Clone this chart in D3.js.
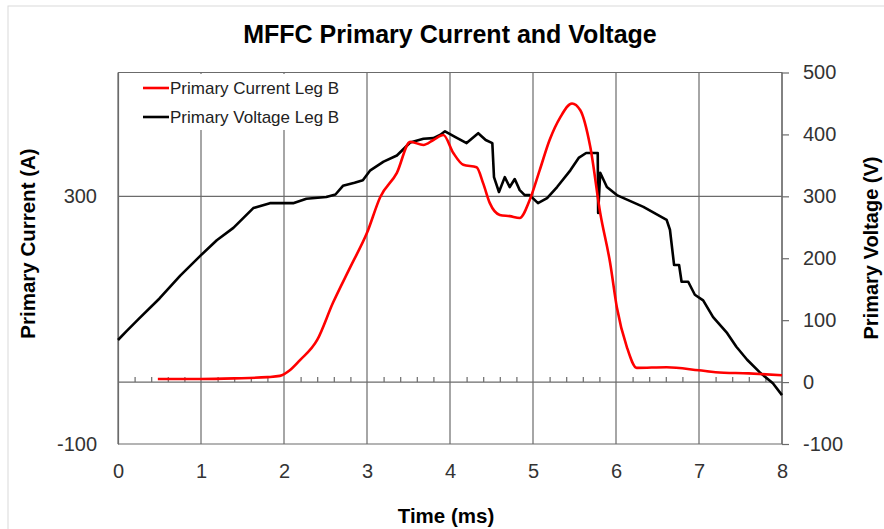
<!DOCTYPE html>
<html><head><meta charset="utf-8">
<script src="https://cdn.jsdelivr.net/npm/d3@7"></script>
<style>body{margin:0;background:#fff}svg{display:block}</style>
</head><body><svg id="c" width="884" height="529"></svg>
<script>
const xTicks = [0,1,2,3,4,5,6,7,8];
const leftTicks = [-100,300];
const rightTicks = [-100,0,100,200,300,400,500];

const currentTime = [0.48,1.0,1.4,1.8,1.95,2.07,2.19,2.4,2.59,2.8,3.0,3.16,3.36,3.52,3.68,3.8,3.92,4.04,4.16,4.32,4.4,4.48,4.6,4.72,4.84,4.96,5.08,5.2,5.33,5.47,5.57,5.69,5.81,5.93,6.01,6.13,6.25,6.61,7.0,7.2,7.6,8.0];
const currentA = [5,5,6,8,10,19,35,68,128,186,241,299,338,388,383,391,399,370,351,347,321,289,270,268,265,294,342,391,428,450,439,380,273,192,121,57,23,24,19,16,14,11];

const voltageTime = [0,0.1,0.25,0.5,0.75,1.0,1.19,1.39,1.63,1.83,2.11,2.27,2.51,2.62,2.71,2.85,2.95,3.04,3.2,3.36,3.52,3.68,3.8,3.88,3.94,4.06,4.2,4.34,4.43,4.51,4.53,4.59,4.66,4.72,4.78,4.84,4.9,4.96,5.06,5.17,5.29,5.45,5.55,5.64,5.78,5.785,5.81,5.89,6.01,6.33,6.61,6.65,6.70,6.76,6.79,6.87,6.95,7.05,7.17,7.34,7.45,7.58,7.73,7.89,8.0];
const voltageV = [68,82,102,135,172,205,229,249,281,289,289,296,299,303,317,322,326,342,356,366,387,393,394,399,405,396,386,402,391,386,331,307,331,315,328,310,302,302,289,297,315,342,362,370,370,273,338,315,302,283,262,246,189,189,162,162,141,132,105,79,57,36,16,-2,-21];

const svg = d3.select("#c");
const L = 118, R = 782, T = 72.5, B = 444;
const x = d3.scaleLinear().domain([0,8]).range([L,R]);
const yL = d3.scaleLinear().domain([-100,500]).range([B,T]);
const yR = d3.scaleLinear().domain([-100,500]).range([B,T]);
const grid = "#6b6b6b";
const tickFont = "'Liberation Sans', Arial, sans-serif";
const fmt = d => String(d);

svg.append("rect").attr("x",8).attr("y",6).attr("width",900).attr("height",600)
  .attr("fill","#fff").attr("stroke","#d9d9d9");

// title
svg.append("text").attr("x",450).attr("y",43).attr("text-anchor","middle")
  .attr("font-family","'Liberation Sans Narrow','Arial Narrow',sans-serif").attr("font-weight","bold")
  .attr("font-size",25).attr("fill","#000").text("MFFC Primary Current and Voltage");

const g = svg.append("g");
g.selectAll("line.vg").data(xTicks).join("line").attr("class","vg")
  .attr("x1",d=>x(d)).attr("x2",d=>x(d)).attr("y1",T).attr("y2",B)
  .attr("stroke",grid).attr("stroke-width",1.2);
g.selectAll("line.hg").data(leftTicks).join("line").attr("class","hg")
  .attr("x1",L).attr("x2",R).attr("y1",d=>yL(d)).attr("y2",d=>yL(d))
  .attr("stroke",grid).attr("stroke-width",1.2);
g.append("line").attr("x1",L).attr("x2",R).attr("y1",T).attr("y2",T).attr("stroke",grid).attr("stroke-width",1.2);

// x axis at zero with minor ticks
const xAxis = d3.axisTop(x).tickValues(d3.range(0,8.01,0.2).filter(v=>Math.abs(v-Math.round(v))>0.01))
  .tickSize(5).tickFormat("");
const xa = svg.append("g").attr("transform",`translate(0,${yL(0)})`).call(xAxis);
xa.select(".domain").remove();
xa.selectAll("line").attr("stroke",grid).attr("stroke-width",1.2);
svg.append("line").attr("x1",L).attr("x2",R).attr("y1",yL(0)).attr("y2",yL(0)).attr("stroke",grid).attr("stroke-width",1.4);

// x tick labels
const xb = svg.append("g").attr("transform",`translate(0,${B})`)
  .call(d3.axisBottom(x).tickValues(xTicks).tickSize(0).tickPadding(20).tickFormat(fmt));
xb.select(".domain").remove();
xb.selectAll("text").attr("font-family",tickFont).attr("font-size",20).attr("fill","#333");

// left axis
const la = svg.append("g").attr("transform",`translate(${L},0)`)
  .call(d3.axisLeft(yL).tickValues(leftTicks).tickSize(0).tickPadding(21).tickFormat(fmt));
la.select(".domain").attr("stroke",grid).attr("stroke-width",1.2);
la.selectAll("text").attr("font-family",tickFont).attr("font-size",20).attr("fill","#333");

// right axis
const ra = svg.append("g").attr("transform",`translate(${R},0)`)
  .call(d3.axisRight(yR).tickValues(rightTicks).tickSize(7).tickPadding(14).tickFormat(fmt));
ra.select(".domain").attr("stroke",grid).attr("stroke-width",1.2).attr("d",`M0,${B}V${T}`);
ra.selectAll("line").attr("stroke",grid).attr("stroke-width",1.2);
ra.selectAll("text").attr("font-family",tickFont).attr("font-size",20).attr("fill","#333");

// series
const cur = currentTime.map((t,i)=>[t,currentA[i]]);
const vol = voltageTime.map((t,i)=>[t,voltageV[i]]);
svg.append("path").datum(vol).attr("fill","none").attr("stroke","#000").attr("stroke-width",2.6)
  .attr("stroke-linejoin","round")
  .attr("d",d3.line().x(d=>x(d[0])).y(d=>yR(d[1])));
svg.append("path").datum(cur).attr("fill","none").attr("stroke","#ff0000").attr("stroke-width",2.6)
  .attr("d",d3.line().curve(d3.curveMonotoneX).x(d=>x(d[0])).y(d=>yL(d[1])));

// legend
svg.append("rect").attr("x",120).attr("y",74).attr("width",242).attr("height",56).attr("fill","#fff");
const leg = [{n:"Primary Current Leg B",c:"#ff0000",y:88},{n:"Primary Voltage Leg B",c:"#000",y:117}];
leg.forEach(l=>{
  svg.append("line").attr("x1",143).attr("x2",169).attr("y1",l.y).attr("y2",l.y).attr("stroke",l.c).attr("stroke-width",2.6);
  svg.append("text").attr("x",170).attr("y",l.y+6).attr("font-family",tickFont).attr("font-size",17).attr("fill","#222").text(l.n);
});

// axis titles
svg.append("text").attr("transform","translate(35,243.5) rotate(-90)").attr("text-anchor","middle")
  .attr("font-family",tickFont).attr("font-weight","bold").attr("font-size",20.5).attr("fill","#000").text("Primary Current (A)");
svg.append("text").attr("transform","translate(878,248) rotate(-90)").attr("text-anchor","middle")
  .attr("font-family",tickFont).attr("font-weight","bold").attr("font-size",20).attr("fill","#000").text("Primary Voltage (V)");
svg.append("text").attr("x",446).attr("y",523).attr("text-anchor","middle")
  .attr("font-family",tickFont).attr("font-weight","bold").attr("font-size",20.5).attr("fill","#000").text("Time (ms)");
</script></body></html>
